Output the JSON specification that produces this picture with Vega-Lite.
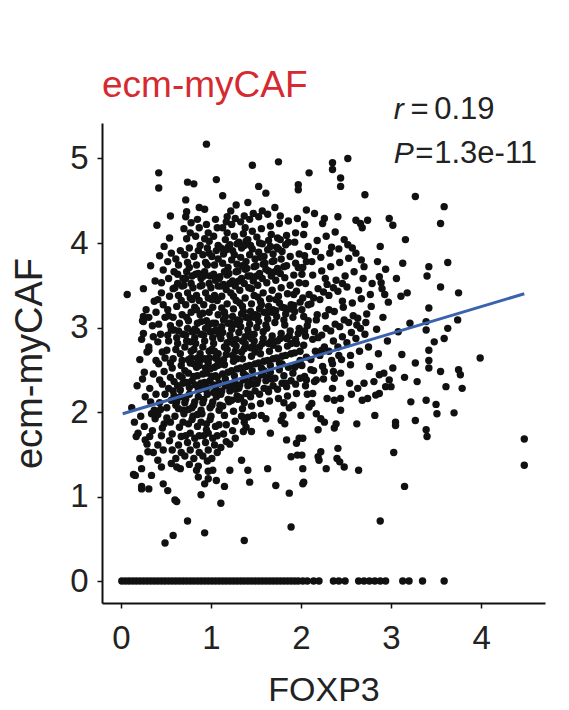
{
"$schema": "https://vega.github.io/schema/vega-lite/v6.json",
"autosize": "none",
"width": 443,
"height": 480,
"padding": {"left": 102, "top": 123, "right": 24, "bottom": 107},
"background": "white",
"config": {"font": "Liberation Sans", "view": {"stroke": null}},
"title": {"text": "ecm-myCAF", "anchor": "start", "frame": "group", "fontSize": 37, "fontWeight": "normal", "color": "#d52a30", "offset": -11},
"datasets": {
"fit": [{"x":0.02,"y":1.98},{"x":4.48,"y":3.40}],
"ital": [{"x":3.03,"y":5.47,"t":"r"},{"x":3.03,"y":4.95,"t":"P"}],
"norm": [{"x":3.215,"y":5.47,"t":"="},{"x":3.48,"y":5.47,"t":"0.19"},{"x":3.27,"y":4.95,"t":"="},{"x":3.48,"y":4.95,"t":"1.3e-11"}],
"pts": [
{"x":0.01,"y":0},{"x":0.05,"y":0},{"x":0.09,"y":0},{"x":0.13,"y":0},{"x":0.17,"y":0},{"x":0.21,"y":0},{"x":0.25,"y":0},{"x":0.29,"y":0},{"x":0.33,"y":0},{"x":0.37,"y":0},{"x":0.41,"y":0},{"x":0.45,"y":0},{"x":0.49,"y":0},{"x":0.53,"y":0},{"x":0.57,"y":0},{"x":0.61,"y":0},{"x":0.65,"y":0},{"x":0.69,"y":0},{"x":0.73,"y":0},{"x":0.77,"y":0},{"x":0.81,"y":0},{"x":0.85,"y":0},{"x":0.89,"y":0},{"x":0.93,"y":0},{"x":0.97,"y":0},{"x":1.01,"y":0},{"x":1.05,"y":0},{"x":1.09,"y":0},{"x":1.13,"y":0},{"x":1.17,"y":0},{"x":1.21,"y":0},{"x":1.25,"y":0},{"x":1.29,"y":0},{"x":1.33,"y":0},{"x":1.37,"y":0},{"x":1.41,"y":0},{"x":1.45,"y":0},{"x":1.49,"y":0},{"x":1.53,"y":0},{"x":1.57,"y":0},{"x":1.61,"y":0},{"x":1.65,"y":0},{"x":1.69,"y":0},{"x":1.73,"y":0},{"x":1.77,"y":0},{"x":1.81,"y":0},{"x":1.85,"y":0},{"x":1.89,"y":0},{"x":1.93,"y":0},{"x":1.97,"y":0},
{"x":2.02,"y":0},{"x":2.07,"y":0},{"x":2.14,"y":0},{"x":2.20,"y":0},{"x":2.36,"y":0},{"x":2.42,"y":0},{"x":2.49,"y":0},{"x":2.64,"y":0},{"x":2.70,"y":0},{"x":2.76,"y":0},{"x":2.82,"y":0},{"x":2.88,"y":0},{"x":2.94,"y":0},{"x":3.13,"y":0},{"x":3.20,"y":0},{"x":3.35,"y":0},{"x":3.59,"y":0},
{"x":0.12,"y":2.05},{"x":0.18,"y":2.31},{"x":0.15,"y":1.88},{"x":0.21,"y":2.62},{"x":0.24,"y":3.08},{"x":0.22,"y":1.95},{"x":0.27,"y":2.18},{"x":0.26,"y":2.47},{"x":0.29,"y":1.62},{"x":0.23,"y":2.86},{"x":0.28,"y":3.21},{"x":0.21,"y":1.45},{"x":0.26,"y":1.83},{"x":0.29,"y":2.71},{"x":0.24,"y":2.39},
{"x":0.07,"y":3.39},{"x":0.14,"y":1.26},{"x":0.16,"y":1.25},{"x":0.23,"y":1.12},{"x":0.23,"y":1.09},{"x":0.23,"y":1.33},{"x":0.19,"y":1.75},{"x":0.17,"y":1.71},{"x":0.27,"y":1.67},{"x":0.25,"y":3.46},{"x":0.25,"y":3.13},{"x":0.25,"y":3.07},{"x":0.25,"y":2.93},
{"x":0.31,"y":2.77},{"x":0.31,"y":2.73},{"x":0.31,"y":1.09},{"x":0.34,"y":1.25},{"x":0.30,"y":1.53},{"x":0.32,"y":1.71},
{"x":0.33,"y":2.12},{"x":0.36,"y":2.45},{"x":0.38,"y":1.92},{"x":0.35,"y":3.02},{"x":0.37,"y":3.31},{"x":0.32,"y":2.28},{"x":0.39,"y":2.61},{"x":0.34,"y":1.98},{"x":0.36,"y":2.89},{"x":0.38,"y":3.55},{"x":0.33,"y":3.73},{"x":0.35,"y":1.78},{"x":0.39,"y":2.21},{"x":0.37,"y":2.02},{"x":0.31,"y":3.12},{"x":0.36,"y":1.52},{"x":0.39,"y":3.18},
{"x":0.42,"y":4.83},{"x":0.42,"y":4.65},{"x":0.40,"y":4.21},{"x":0.45,"y":3.53},{"x":0.45,"y":3.41},{"x":0.47,"y":3.68},{"x":0.41,"y":3.33},{"x":0.47,"y":1.15},{"x":0.45,"y":1.35},{"x":0.41,"y":1.43},{"x":0.47,"y":1.55},{"x":0.41,"y":1.61},{"x":0.49,"y":0.45},
{"x":0.43,"y":2.11},{"x":0.46,"y":2.33},{"x":0.48,"y":1.86},{"x":0.42,"y":2.57},{"x":0.44,"y":2.92},{"x":0.49,"y":3.12},{"x":0.41,"y":1.97},{"x":0.46,"y":2.71},{"x":0.48,"y":2.48},{"x":0.43,"y":3.85},{"x":0.45,"y":1.72},{"x":0.49,"y":2.21},{"x":0.42,"y":3.04},{"x":0.47,"y":3.27},{"x":0.44,"y":2.03},{"x":0.48,"y":3.96},{"x":0.41,"y":2.83},{"x":0.46,"y":1.81},{"x":0.43,"y":2.38},{"x":0.49,"y":2.64},
{"x":0.52,"y":3.78},{"x":0.54,"y":4.06},{"x":0.52,"y":1.07},{"x":0.56,"y":1.39},{"x":0.58,"y":0.54},
{"x":0.51,"y":2.05},{"x":0.53,"y":2.28},{"x":0.55,"y":1.88},{"x":0.57,"y":2.52},{"x":0.59,"y":2.97},{"x":0.52,"y":3.21},{"x":0.54,"y":1.66},{"x":0.56,"y":2.14},{"x":0.58,"y":3.46},{"x":0.51,"y":2.73},{"x":0.53,"y":3.58},{"x":0.55,"y":2.41},{"x":0.57,"y":1.74},{"x":0.59,"y":2.19},{"x":0.52,"y":2.91},{"x":0.54,"y":3.37},{"x":0.56,"y":3.88},{"x":0.58,"y":2.63},{"x":0.51,"y":1.93},{"x":0.55,"y":3.02},{"x":0.57,"y":1.55},{"x":0.59,"y":2.36},{"x":0.53,"y":2.84},{"x":0.58,"y":3.12},{"x":0.55,"y":4.32},
{"x":0.60,"y":0.96},{"x":0.62,"y":0.94},{"x":0.62,"y":1.35},{"x":0.70,"y":4.17},
{"x":0.61,"y":2.08},{"x":0.63,"y":2.31},{"x":0.65,"y":1.82},{"x":0.67,"y":2.55},{"x":0.69,"y":2.92},{"x":0.62,"y":3.25},{"x":0.64,"y":1.61},{"x":0.66,"y":2.18},{"x":0.68,"y":3.49},{"x":0.61,"y":2.74},{"x":0.63,"y":3.63},{"x":0.65,"y":2.43},{"x":0.67,"y":1.71},{"x":0.69,"y":2.02},{"x":0.62,"y":2.88},{"x":0.64,"y":3.38},{"x":0.66,"y":3.91},{"x":0.68,"y":2.61},{"x":0.60,"y":1.95},{"x":0.65,"y":3.05},{"x":0.67,"y":1.52},{"x":0.69,"y":2.34},{"x":0.63,"y":2.81},{"x":0.68,"y":3.15},{"x":0.64,"y":3.74},{"x":0.61,"y":1.45},{"x":0.66,"y":2.26},{"x":0.69,"y":3.58},{"x":0.62,"y":2.12},{"x":0.67,"y":3.32},{"x":0.64,"y":2.96},{"x":0.60,"y":3.47},{"x":0.66,"y":1.33},{"x":0.69,"y":1.88},
{"x":0.74,"y":4.72},{"x":0.81,"y":4.70},{"x":0.72,"y":4.51},{"x":0.73,"y":4.37},{"x":0.72,"y":4.31},{"x":0.74,"y":0.71},
{"x":0.71,"y":2.11},{"x":0.73,"y":2.35},{"x":0.75,"y":1.86},{"x":0.77,"y":2.58},{"x":0.79,"y":2.95},{"x":0.72,"y":3.27},{"x":0.74,"y":1.64},{"x":0.76,"y":2.21},{"x":0.78,"y":3.52},{"x":0.71,"y":2.77},{"x":0.73,"y":3.66},{"x":0.75,"y":2.46},{"x":0.77,"y":1.75},{"x":0.79,"y":2.05},{"x":0.72,"y":2.91},{"x":0.74,"y":3.41},{"x":0.76,"y":3.94},{"x":0.78,"y":2.64},{"x":0.70,"y":1.98},{"x":0.75,"y":3.08},{"x":0.77,"y":1.55},{"x":0.79,"y":2.37},{"x":0.73,"y":2.84},{"x":0.78,"y":3.18},{"x":0.74,"y":3.77},{"x":0.71,"y":1.48},{"x":0.76,"y":2.29},{"x":0.79,"y":3.61},{"x":0.72,"y":2.15},{"x":0.77,"y":3.35},{"x":0.74,"y":2.99},{"x":0.70,"y":3.50},{"x":0.76,"y":1.38},{"x":0.79,"y":1.91},{"x":0.73,"y":4.05},{"x":0.77,"y":4.12},{"x":0.71,"y":3.86},{"x":0.78,"y":2.72},{"x":0.75,"y":2.62},{"x":0.72,"y":1.72},
{"x":0.87,"y":4.42},{"x":0.84,"y":1.31},{"x":0.86,"y":1.23},{"x":0.89,"y":1.02},
{"x":0.81,"y":2.08},{"x":0.83,"y":2.32},{"x":0.85,"y":1.83},{"x":0.87,"y":2.55},{"x":0.89,"y":2.92},{"x":0.82,"y":3.24},{"x":0.84,"y":1.61},{"x":0.86,"y":2.18},{"x":0.88,"y":3.49},{"x":0.81,"y":2.74},{"x":0.83,"y":3.63},{"x":0.85,"y":2.43},{"x":0.87,"y":1.72},{"x":0.89,"y":2.02},{"x":0.82,"y":2.88},{"x":0.84,"y":3.38},{"x":0.86,"y":3.91},{"x":0.88,"y":2.61},{"x":0.80,"y":1.95},{"x":0.85,"y":3.05},{"x":0.87,"y":1.52},{"x":0.89,"y":2.34},{"x":0.83,"y":2.81},{"x":0.88,"y":3.15},{"x":0.84,"y":3.74},{"x":0.81,"y":1.45},{"x":0.86,"y":2.26},{"x":0.89,"y":3.58},{"x":0.82,"y":2.12},{"x":0.87,"y":3.32},{"x":0.84,"y":2.96},{"x":0.80,"y":3.47},{"x":0.86,"y":1.36},{"x":0.89,"y":1.88},{"x":0.83,"y":4.08},{"x":0.87,"y":4.18},{"x":0.81,"y":3.84},{"x":0.88,"y":2.69},{"x":0.85,"y":2.64},{"x":0.82,"y":1.69},{"x":0.85,"y":4.28},{"x":0.88,"y":3.97},{"x":0.81,"y":2.42},{"x":0.84,"y":2.53},
{"x":0.95,"y":5.17},{"x":0.93,"y":4.40},{"x":0.93,"y":0.57},{"x":0.97,"y":1.21},
{"x":0.91,"y":2.11},{"x":0.93,"y":2.35},{"x":0.95,"y":1.86},{"x":0.97,"y":2.58},{"x":0.99,"y":2.95},{"x":0.92,"y":3.27},{"x":0.94,"y":1.64},{"x":0.96,"y":2.21},{"x":0.98,"y":3.52},{"x":0.91,"y":2.77},{"x":0.93,"y":3.66},{"x":0.95,"y":2.46},{"x":0.97,"y":1.75},{"x":0.99,"y":2.05},{"x":0.92,"y":2.91},{"x":0.94,"y":3.41},{"x":0.96,"y":3.94},{"x":0.98,"y":2.64},{"x":0.90,"y":1.98},{"x":0.95,"y":3.08},{"x":0.97,"y":1.55},{"x":0.99,"y":2.37},{"x":0.93,"y":2.84},{"x":0.98,"y":3.18},{"x":0.94,"y":3.77},{"x":0.91,"y":1.48},{"x":0.96,"y":2.29},{"x":0.99,"y":3.61},{"x":0.92,"y":2.15},{"x":0.97,"y":3.35},{"x":0.94,"y":2.99},{"x":0.90,"y":3.50},{"x":0.96,"y":1.42},{"x":0.99,"y":1.91},{"x":0.93,"y":4.05},{"x":0.97,"y":4.12},{"x":0.91,"y":3.86},{"x":0.98,"y":2.72},{"x":0.95,"y":2.62},{"x":0.92,"y":1.72},{"x":0.95,"y":4.22},{"x":0.98,"y":3.88},{"x":0.91,"y":2.45},{"x":0.94,"y":2.52},{"x":0.97,"y":1.30},{"x":0.93,"y":1.15},
{"x":1.06,"y":4.75},{"x":1.06,"y":1.19},{"x":1.02,"y":1.31},
{"x":1.01,"y":2.08},{"x":1.03,"y":2.32},{"x":1.05,"y":1.83},{"x":1.07,"y":2.55},{"x":1.09,"y":2.92},{"x":1.02,"y":3.24},{"x":1.04,"y":1.61},{"x":1.06,"y":2.18},{"x":1.08,"y":3.49},{"x":1.01,"y":2.74},{"x":1.03,"y":3.63},{"x":1.05,"y":2.43},{"x":1.07,"y":1.72},{"x":1.09,"y":2.02},{"x":1.02,"y":2.88},{"x":1.04,"y":3.38},{"x":1.06,"y":3.91},{"x":1.08,"y":2.61},{"x":1.00,"y":1.95},{"x":1.05,"y":3.05},{"x":1.07,"y":1.52},{"x":1.09,"y":2.34},{"x":1.03,"y":2.81},{"x":1.08,"y":3.15},{"x":1.04,"y":3.74},{"x":1.01,"y":1.45},{"x":1.06,"y":2.26},{"x":1.09,"y":3.58},{"x":1.02,"y":2.12},{"x":1.07,"y":3.32},{"x":1.04,"y":2.96},{"x":1.00,"y":3.47},{"x":1.03,"y":4.08},{"x":1.07,"y":4.18},{"x":1.01,"y":3.84},{"x":1.08,"y":2.69},{"x":1.05,"y":2.64},{"x":1.02,"y":1.69},{"x":1.05,"y":4.28},{"x":1.08,"y":3.97},{"x":1.01,"y":2.42},{"x":1.04,"y":2.53},{"x":1.09,"y":1.85},
{"x":1.13,"y":4.56},{"x":1.18,"y":4.31},{"x":1.11,"y":0.92},{"x":1.15,"y":1.12},
{"x":1.11,"y":2.21},{"x":1.13,"y":2.45},{"x":1.15,"y":1.96},{"x":1.17,"y":2.68},{"x":1.19,"y":3.05},{"x":1.12,"y":3.37},{"x":1.14,"y":1.74},{"x":1.16,"y":2.31},{"x":1.18,"y":3.62},{"x":1.11,"y":2.87},{"x":1.13,"y":3.76},{"x":1.15,"y":2.56},{"x":1.17,"y":1.85},{"x":1.19,"y":2.15},{"x":1.12,"y":3.01},{"x":1.14,"y":3.51},{"x":1.16,"y":4.04},{"x":1.18,"y":2.74},{"x":1.10,"y":2.08},{"x":1.15,"y":3.18},{"x":1.17,"y":1.65},{"x":1.19,"y":2.47},{"x":1.13,"y":2.94},{"x":1.18,"y":3.28},{"x":1.14,"y":3.87},{"x":1.11,"y":1.58},{"x":1.16,"y":2.39},{"x":1.19,"y":3.71},{"x":1.12,"y":2.25},{"x":1.17,"y":3.45},{"x":1.14,"y":3.09},{"x":1.10,"y":3.60},{"x":1.13,"y":4.18},{"x":1.17,"y":4.25},{"x":1.11,"y":3.94},{"x":1.18,"y":2.82},{"x":1.15,"y":2.77},{"x":1.19,"y":3.95},
{"x":1.21,"y":1.31},{"x":1.28,"y":4.45},
{"x":1.21,"y":2.25},{"x":1.23,"y":2.49},{"x":1.25,"y":2.01},{"x":1.27,"y":2.72},{"x":1.29,"y":3.09},{"x":1.22,"y":3.41},{"x":1.24,"y":1.78},{"x":1.26,"y":2.35},{"x":1.28,"y":3.66},{"x":1.21,"y":2.91},{"x":1.23,"y":3.80},{"x":1.25,"y":2.60},{"x":1.27,"y":1.89},{"x":1.29,"y":2.19},{"x":1.22,"y":3.05},{"x":1.24,"y":3.55},{"x":1.26,"y":4.08},{"x":1.28,"y":2.78},{"x":1.20,"y":2.12},{"x":1.25,"y":3.22},{"x":1.27,"y":1.69},{"x":1.29,"y":2.51},{"x":1.23,"y":2.98},{"x":1.28,"y":3.32},{"x":1.24,"y":3.91},{"x":1.21,"y":1.62},{"x":1.26,"y":2.43},{"x":1.29,"y":3.75},{"x":1.22,"y":2.29},{"x":1.27,"y":3.49},{"x":1.24,"y":3.13},{"x":1.20,"y":3.64},{"x":1.23,"y":4.22},{"x":1.27,"y":4.29},{"x":1.21,"y":3.98},{"x":1.28,"y":2.86},{"x":1.25,"y":2.81},{"x":1.29,"y":3.99},{"x":1.22,"y":4.38},
{"x":1.37,"y":0.48},{"x":1.34,"y":1.43},{"x":1.36,"y":1.77},{"x":1.39,"y":1.82},{"x":1.37,"y":1.88},
{"x":1.31,"y":2.28},{"x":1.33,"y":2.52},{"x":1.35,"y":2.04},{"x":1.37,"y":2.75},{"x":1.39,"y":3.12},{"x":1.32,"y":3.44},{"x":1.34,"y":1.95},{"x":1.36,"y":2.38},{"x":1.38,"y":3.69},{"x":1.31,"y":2.94},{"x":1.33,"y":3.83},{"x":1.35,"y":2.63},{"x":1.37,"y":2.11},{"x":1.39,"y":2.22},{"x":1.32,"y":3.08},{"x":1.34,"y":3.58},{"x":1.36,"y":4.11},{"x":1.38,"y":2.81},{"x":1.30,"y":2.15},{"x":1.35,"y":3.25},{"x":1.39,"y":2.54},{"x":1.33,"y":3.01},{"x":1.38,"y":3.35},{"x":1.34,"y":3.94},{"x":1.36,"y":2.46},{"x":1.39,"y":3.78},{"x":1.32,"y":2.32},{"x":1.37,"y":3.52},{"x":1.34,"y":3.16},{"x":1.30,"y":3.67},{"x":1.33,"y":4.25},{"x":1.37,"y":4.32},{"x":1.31,"y":4.01},{"x":1.38,"y":2.89},{"x":1.35,"y":2.84},{"x":1.39,"y":4.02},
{"x":1.46,"y":4.92},{"x":1.41,"y":4.48},{"x":1.41,"y":1.31},{"x":1.43,"y":1.17},{"x":1.45,"y":1.77},{"x":1.41,"y":1.94},{"x":1.47,"y":1.96},
{"x":1.41,"y":2.31},{"x":1.43,"y":2.55},{"x":1.45,"y":2.07},{"x":1.47,"y":2.78},{"x":1.49,"y":3.15},{"x":1.42,"y":3.47},{"x":1.44,"y":2.18},{"x":1.46,"y":2.41},{"x":1.48,"y":3.72},{"x":1.41,"y":2.97},{"x":1.43,"y":3.86},{"x":1.45,"y":2.66},{"x":1.49,"y":2.25},{"x":1.42,"y":3.11},{"x":1.44,"y":3.61},{"x":1.46,"y":4.14},{"x":1.48,"y":2.84},{"x":1.45,"y":3.28},{"x":1.49,"y":2.57},{"x":1.43,"y":3.04},{"x":1.48,"y":3.38},{"x":1.44,"y":3.97},{"x":1.46,"y":2.49},{"x":1.49,"y":3.81},{"x":1.42,"y":2.35},{"x":1.47,"y":3.55},{"x":1.44,"y":3.19},{"x":1.40,"y":3.70},{"x":1.43,"y":4.28},{"x":1.47,"y":4.35},{"x":1.41,"y":4.04},{"x":1.48,"y":2.92},{"x":1.45,"y":2.87},
{"x":1.53,"y":4.67},{"x":1.56,"y":1.96},
{"x":1.51,"y":2.34},{"x":1.53,"y":2.58},{"x":1.55,"y":2.10},{"x":1.57,"y":2.81},{"x":1.59,"y":3.18},{"x":1.52,"y":3.50},{"x":1.54,"y":2.21},{"x":1.56,"y":2.44},{"x":1.58,"y":3.75},{"x":1.51,"y":3.00},{"x":1.53,"y":3.89},{"x":1.55,"y":2.69},{"x":1.59,"y":2.28},{"x":1.52,"y":3.14},{"x":1.54,"y":3.64},{"x":1.56,"y":4.17},{"x":1.58,"y":2.87},{"x":1.55,"y":3.31},{"x":1.59,"y":2.60},{"x":1.53,"y":3.07},{"x":1.58,"y":3.41},{"x":1.54,"y":4.00},{"x":1.56,"y":2.52},{"x":1.59,"y":3.84},{"x":1.52,"y":2.38},{"x":1.57,"y":3.58},{"x":1.54,"y":3.22},{"x":1.50,"y":3.73},{"x":1.53,"y":4.31},{"x":1.57,"y":4.38},{"x":1.51,"y":4.07},{"x":1.58,"y":2.95},
{"x":1.61,"y":4.59},{"x":1.63,"y":1.33},
{"x":1.61,"y":2.37},{"x":1.63,"y":2.61},{"x":1.65,"y":2.13},{"x":1.67,"y":2.84},{"x":1.69,"y":3.21},{"x":1.62,"y":3.53},{"x":1.64,"y":2.24},{"x":1.66,"y":2.47},{"x":1.68,"y":3.78},{"x":1.61,"y":3.03},{"x":1.63,"y":3.92},{"x":1.65,"y":2.72},{"x":1.69,"y":2.31},{"x":1.62,"y":3.17},{"x":1.64,"y":3.67},{"x":1.66,"y":4.20},{"x":1.68,"y":2.90},{"x":1.65,"y":3.34},{"x":1.69,"y":2.63},{"x":1.63,"y":3.10},{"x":1.68,"y":3.44},{"x":1.64,"y":4.03},{"x":1.66,"y":2.55},{"x":1.69,"y":3.87},{"x":1.62,"y":2.41},{"x":1.67,"y":3.61},{"x":1.64,"y":3.25},{"x":1.60,"y":3.76},{"x":1.63,"y":4.34},{"x":1.67,"y":4.10},{"x":1.61,"y":1.92},{"x":1.66,"y":1.75},
{"x":1.75,"y":4.96},{"x":1.71,"y":4.42},{"x":1.72,"y":1.13},{"x":1.78,"y":1.90},{"x":1.80,"y":1.96},
{"x":1.71,"y":2.40},{"x":1.73,"y":2.64},{"x":1.75,"y":2.16},{"x":1.77,"y":2.87},{"x":1.79,"y":3.24},{"x":1.72,"y":3.56},{"x":1.74,"y":2.27},{"x":1.76,"y":2.50},{"x":1.78,"y":3.81},{"x":1.71,"y":3.06},{"x":1.73,"y":3.95},{"x":1.75,"y":2.75},{"x":1.79,"y":2.34},{"x":1.72,"y":3.20},{"x":1.74,"y":3.70},{"x":1.76,"y":4.23},{"x":1.78,"y":2.93},{"x":1.75,"y":3.37},{"x":1.79,"y":2.66},{"x":1.73,"y":3.13},{"x":1.78,"y":3.47},{"x":1.74,"y":4.06},{"x":1.76,"y":2.58},{"x":1.79,"y":3.90},{"x":1.77,"y":3.64},{"x":1.70,"y":3.79},{"x":1.77,"y":4.32},
{"x":1.82,"y":1.86},{"x":1.84,"y":1.67},{"x":1.87,"y":1.04},{"x":1.89,"y":1.47},{"x":1.89,"y":0.64},
{"x":1.81,"y":2.43},{"x":1.83,"y":2.67},{"x":1.85,"y":2.19},{"x":1.87,"y":2.90},{"x":1.89,"y":3.27},{"x":1.82,"y":3.59},{"x":1.84,"y":2.30},{"x":1.86,"y":2.53},{"x":1.88,"y":3.84},{"x":1.81,"y":3.09},{"x":1.83,"y":3.98},{"x":1.85,"y":2.78},{"x":1.89,"y":2.37},{"x":1.82,"y":3.23},{"x":1.84,"y":3.73},{"x":1.86,"y":4.26},{"x":1.88,"y":2.96},{"x":1.85,"y":3.40},{"x":1.89,"y":2.69},{"x":1.83,"y":3.16},{"x":1.88,"y":3.50},{"x":1.84,"y":4.09},{"x":1.87,"y":2.05},{"x":1.81,"y":2.11},
{"x":1.97,"y":4.69},{"x":1.97,"y":4.63},{"x":1.96,"y":1.49},{"x":1.95,"y":1.63},{"x":1.98,"y":1.69},{"x":2.00,"y":1.96},
{"x":1.91,"y":2.46},{"x":1.93,"y":2.70},{"x":1.95,"y":2.22},{"x":1.97,"y":2.93},{"x":1.99,"y":3.30},{"x":1.92,"y":3.62},{"x":1.94,"y":2.33},{"x":1.96,"y":2.56},{"x":1.98,"y":3.87},{"x":1.91,"y":3.12},{"x":1.93,"y":4.01},{"x":1.95,"y":2.81},{"x":1.99,"y":2.40},{"x":1.92,"y":3.26},{"x":1.94,"y":3.76},{"x":1.96,"y":4.29},{"x":1.98,"y":2.99},{"x":1.95,"y":3.43},{"x":1.99,"y":2.72},{"x":1.93,"y":3.19},{"x":1.98,"y":3.53},{"x":1.94,"y":4.12},{"x":1.91,"y":2.08},
{"x":2.09,"y":4.83},{"x":2.06,"y":4.39},{"x":2.02,"y":1.33},{"x":2.02,"y":1.15},{"x":2.01,"y":1.49},{"x":2.02,"y":1.69},{"x":2.09,"y":2.06},{"x":2.06,"y":2.38},{"x":2.11,"y":2.50},{"x":2.03,"y":1.17},
{"x":2.01,"y":2.55},{"x":2.03,"y":2.79},{"x":2.05,"y":2.31},{"x":2.07,"y":3.02},{"x":2.09,"y":3.39},{"x":2.02,"y":3.71},{"x":2.04,"y":2.42},{"x":2.06,"y":2.65},{"x":2.08,"y":3.96},{"x":2.01,"y":3.21},{"x":2.03,"y":4.10},{"x":2.05,"y":2.90},{"x":2.02,"y":3.35},{"x":2.04,"y":3.85},{"x":2.08,"y":3.08},{"x":2.05,"y":3.52},{"x":2.07,"y":2.21},{"x":2.04,"y":4.22},
{"x":2.15,"y":4.35},{"x":2.13,"y":2.22},{"x":2.19,"y":1.79},{"x":2.17,"y":1.98},{"x":2.15,"y":2.36},{"x":2.19,"y":1.47},{"x":2.20,"y":1.43},{"x":2.22,"y":1.53},{"x":2.22,"y":1.92},
{"x":2.11,"y":2.62},{"x":2.13,"y":2.86},{"x":2.15,"y":2.95},{"x":2.17,"y":3.09},{"x":2.19,"y":3.46},{"x":2.12,"y":3.78},{"x":2.14,"y":2.49},{"x":2.16,"y":2.72},{"x":2.18,"y":4.03},{"x":2.11,"y":3.28},{"x":2.13,"y":3.62},{"x":2.18,"y":3.15},{"x":2.16,"y":3.90},{"x":2.12,"y":2.10},
{"x":2.26,"y":4.29},{"x":2.24,"y":4.23},{"x":2.26,"y":1.88},{"x":2.28,"y":1.33},{"x":2.26,"y":2.48},
{"x":2.21,"y":2.67},{"x":2.23,"y":2.91},{"x":2.25,"y":2.39},{"x":2.27,"y":3.14},{"x":2.29,"y":3.51},{"x":2.22,"y":3.83},{"x":2.24,"y":2.54},{"x":2.26,"y":2.77},{"x":2.28,"y":4.08},{"x":2.21,"y":3.33},{"x":2.23,"y":3.67},{"x":2.28,"y":2.99},{"x":2.25,"y":3.42},{"x":2.29,"y":2.16},
{"x":2.35,"y":4.95},{"x":2.35,"y":4.87},{"x":2.37,"y":1.81},{"x":2.39,"y":1.86},{"x":2.37,"y":2.14},{"x":2.35,"y":2.28},{"x":2.37,"y":2.40},{"x":2.41,"y":1.57},{"x":2.40,"y":1.45},{"x":2.43,"y":1.41},
{"x":2.31,"y":2.72},{"x":2.33,"y":2.96},{"x":2.35,"y":2.57},{"x":2.37,"y":3.19},{"x":2.39,"y":3.56},{"x":2.32,"y":3.88},{"x":2.34,"y":2.61},{"x":2.36,"y":2.84},{"x":2.38,"y":4.13},{"x":2.31,"y":3.38},{"x":2.33,"y":3.72},{"x":2.38,"y":3.04},{"x":2.36,"y":3.47},
{"x":2.44,"y":4.77},{"x":2.44,"y":4.67},{"x":2.41,"y":4.31},{"x":2.44,"y":2.02},{"x":2.44,"y":2.16},{"x":2.44,"y":2.46},{"x":2.48,"y":1.35},
{"x":2.41,"y":2.77},{"x":2.43,"y":3.01},{"x":2.45,"y":2.62},{"x":2.47,"y":3.24},{"x":2.49,"y":3.61},{"x":2.42,"y":3.93},{"x":2.46,"y":2.89},{"x":2.48,"y":4.04},{"x":2.41,"y":3.43},{"x":2.43,"y":3.77},{"x":2.48,"y":3.09},{"x":2.46,"y":3.52},
{"x":2.52,"y":5.00},{"x":2.55,"y":2.56},{"x":2.54,"y":2.34},{"x":2.57,"y":3.94},{"x":2.61,"y":3.88},
{"x":2.51,"y":2.82},{"x":2.53,"y":3.06},{"x":2.55,"y":2.67},{"x":2.57,"y":3.29},{"x":2.59,"y":3.66},{"x":2.52,"y":3.98},{"x":2.56,"y":2.94},{"x":2.51,"y":3.48},{"x":2.53,"y":3.82},{"x":2.58,"y":3.14},{"x":2.56,"y":2.21},
{"x":2.61,"y":4.27},{"x":2.66,"y":4.23},{"x":2.68,"y":4.18},{"x":2.67,"y":3.80},{"x":2.70,"y":3.72},{"x":2.63,"y":2.28},{"x":2.68,"y":2.14},{"x":2.70,"y":2.34},{"x":2.62,"y":1.86},{"x":2.64,"y":1.31},
{"x":2.61,"y":2.87},{"x":2.63,"y":3.11},{"x":2.65,"y":2.72},{"x":2.67,"y":3.34},{"x":2.69,"y":3.58},{"x":2.62,"y":3.03},{"x":2.66,"y":2.99},{"x":2.64,"y":3.44},
{"x":2.71,"y":4.57},{"x":2.74,"y":4.27},{"x":2.74,"y":2.16},{"x":2.81,"y":2.36},
{"x":2.71,"y":2.92},{"x":2.73,"y":3.16},{"x":2.75,"y":2.77},{"x":2.77,"y":3.39},{"x":2.79,"y":3.52},{"x":2.72,"y":3.06},{"x":2.76,"y":2.54},{"x":2.78,"y":3.25},
{"x":2.88,"y":3.96},{"x":2.94,"y":3.69},{"x":2.87,"y":3.60},{"x":2.89,"y":3.53},{"x":2.90,"y":3.46},{"x":2.93,"y":3.39},{"x":2.97,"y":3.30},{"x":2.87,"y":2.44},{"x":2.92,"y":2.46},{"x":2.98,"y":2.38},{"x":3.00,"y":2.30},{"x":2.94,"y":2.30},{"x":2.87,"y":2.22},{"x":2.83,"y":2.20},{"x":2.82,"y":1.96},{"x":2.98,"y":4.29},{"x":3.02,"y":4.21},{"x":2.88,"y":0.71},{"x":3.02,"y":2.52},
{"x":2.84,"y":2.98},{"x":2.86,"y":2.69},{"x":2.91,"y":3.12},{"x":2.96,"y":2.84},{"x":2.85,"y":3.78},
{"x":3.11,"y":3.37},{"x":3.18,"y":3.41},{"x":3.13,"y":3.76},{"x":3.16,"y":4.04},{"x":3.27,"y":4.55},{"x":3.59,"y":4.43},{"x":3.55,"y":4.23},{"x":3.42,"y":3.72},{"x":3.63,"y":3.77},{"x":3.40,"y":3.61},{"x":3.55,"y":3.48},{"x":3.75,"y":3.41},{"x":3.42,"y":3.23},{"x":3.74,"y":3.09},{"x":3.39,"y":3.07},{"x":3.39,"y":2.97},{"x":3.63,"y":2.99},{"x":3.59,"y":2.87},{"x":3.48,"y":2.83},{"x":3.42,"y":2.73},{"x":3.42,"y":2.61},{"x":3.99,"y":2.64},{"x":3.27,"y":2.58},{"x":3.42,"y":2.52},{"x":3.55,"y":2.48},{"x":3.75,"y":2.50},{"x":3.77,"y":2.44},{"x":3.79,"y":2.28},{"x":3.61,"y":2.30},{"x":3.29,"y":2.36},{"x":3.22,"y":2.12},{"x":3.39,"y":2.14},{"x":3.50,"y":2.09},{"x":3.51,"y":1.98},{"x":3.70,"y":1.99},{"x":3.27,"y":1.90},{"x":3.39,"y":1.79},{"x":3.40,"y":1.71},{"x":3.05,"y":1.88},{"x":3.05,"y":1.84},{"x":3.03,"y":1.52},{"x":3.15,"y":1.12},{"x":4.48,"y":1.68},{"x":4.48,"y":1.37},
{"x":3.08,"y":2.95},{"x":3.12,"y":2.68},{"x":3.21,"y":3.05},{"x":3.06,"y":3.58},{"x":3.15,"y":2.41},
{"x":0.56,"y":2.97},{"x":0.63,"y":3.52},{"x":0.58,"y":2.25},{"x":0.66,"y":2.69},{"x":0.53,"y":3.14},{"x":0.61,"y":3.81},{"x":0.68,"y":2.41},{"x":0.55,"y":2.58},{"x":0.64,"y":2.04},{"x":0.59,"y":3.66},
{"x":0.73,"y":3.12},{"x":0.81,"y":2.57},{"x":0.76,"y":3.71},{"x":0.84,"y":3.21},{"x":0.71,"y":2.49},{"x":0.88,"y":2.27},{"x":0.79,"y":3.33},{"x":0.75,"y":2.03},{"x":0.86,"y":3.64},{"x":0.82,"y":2.98},{"x":0.78,"y":4.24},{"x":0.85,"y":1.97},{"x":0.72,"y":3.58},{"x":0.89,"y":3.07},{"x":0.77,"y":2.83},
{"x":0.92,"y":3.61},{"x":1.04,"y":2.72},{"x":0.97,"y":3.02},{"x":1.08,"y":3.81},{"x":0.94,"y":2.27},{"x":1.01,"y":3.33},{"x":0.99,"y":2.51},{"x":1.06,"y":2.97},{"x":0.91,"y":3.17},{"x":1.03,"y":2.23},{"x":0.96,"y":3.74},{"x":1.09,"y":2.56},{"x":0.93,"y":2.63},{"x":1.05,"y":3.56},{"x":0.98,"y":4.02},{"x":1.02,"y":3.05},{"x":0.95,"y":1.79},{"x":1.07,"y":2.41},
{"x":1.12,"y":3.23},{"x":1.24,"y":2.67},{"x":1.17,"y":3.92},{"x":1.28,"y":3.04},{"x":1.14,"y":2.62},{"x":1.21,"y":3.52},{"x":1.19,"y":2.33},{"x":1.26,"y":3.86},{"x":1.11,"y":3.49},{"x":1.23,"y":2.14},{"x":1.16,"y":3.13},{"x":1.29,"y":2.63},{"x":1.13,"y":2.07},{"x":1.25,"y":3.37},{"x":1.18,"y":4.12},{"x":1.22,"y":2.86},{"x":1.15,"y":3.66},{"x":1.27,"y":2.27},
{"x":1.32,"y":3.29},{"x":1.44,"y":2.76},{"x":1.37,"y":3.97},{"x":1.48,"y":3.12},{"x":1.34,"y":2.71},{"x":1.41,"y":3.61},{"x":1.39,"y":2.43},{"x":1.46,"y":3.93},{"x":1.31,"y":3.55},{"x":1.43,"y":2.21},{"x":1.36,"y":3.19},{"x":1.49,"y":2.71},{"x":1.33,"y":2.17},{"x":1.45,"y":3.46},{"x":1.38,"y":4.18},{"x":1.42,"y":2.93},{"x":1.35,"y":3.73},{"x":1.47,"y":2.33},
{"x":1.52,"y":3.36},{"x":1.64,"y":2.81},{"x":1.57,"y":3.99},{"x":1.68,"y":3.18},{"x":1.54,"y":2.77},{"x":1.61,"y":3.69},{"x":1.59,"y":2.49},{"x":1.66,"y":3.96},{"x":1.51,"y":3.61},{"x":1.63,"y":2.27},{"x":1.56,"y":3.27},{"x":1.69,"y":2.79},{"x":1.55,"y":3.83},{"x":1.62,"y":2.99},{"x":1.67,"y":2.39},
{"x":1.72,"y":3.33},{"x":1.84,"y":2.87},{"x":1.77,"y":4.04},{"x":1.88,"y":3.22},{"x":1.74,"y":2.84},{"x":1.81,"y":3.72},{"x":1.79,"y":2.57},{"x":1.86,"y":4.01},{"x":1.71,"y":3.66},{"x":1.83,"y":2.34},{"x":1.76,"y":3.29},{"x":1.89,"y":2.81},{"x":1.75,"y":3.93},{"x":1.82,"y":3.03},
{"x":1.92,"y":3.39},{"x":2.04,"y":2.96},{"x":1.97,"y":3.71},{"x":2.08,"y":3.27},{"x":1.94,"y":2.86},{"x":2.01,"y":3.63},{"x":1.99,"y":2.61},{"x":2.06,"y":3.78},{"x":1.93,"y":2.53},{"x":2.03,"y":3.13},
{"x":2.14,"y":3.35},{"x":2.23,"y":2.73},{"x":2.31,"y":3.21},{"x":2.42,"y":2.67},{"x":2.19,"y":2.88},{"x":2.27,"y":3.58},{"x":2.36,"y":2.48},{"x":2.46,"y":3.31},{"x":2.17,"y":2.38},{"x":2.34,"y":3.95}
]
},
"encoding": {
"x": {"field": "x", "type": "quantitative",
  "scale": {"domain": [-0.21, 4.71], "nice": false, "zero": false},
  "axis": {"values": [0,1,2,3,4], "grid": false, "title": "FOXP3", "domainColor": "#111", "domainWidth": 2, "tickColor": "#111", "tickWidth": 1.5, "tickSize": 5, "labelFontSize": 33, "labelColor": "#222", "labelPadding": 14, "titleFontSize": 34, "titleFontWeight": "normal", "titleColor": "#222", "titlePadding": 18}},
"y": {"field": "y", "type": "quantitative",
  "scale": {"domain": [-0.26, 5.42], "nice": false, "zero": false},
  "axis": {"values": [0,1,2,3,4,5], "grid": false, "title": "ecm-myCAF", "domainColor": "#111", "domainWidth": 2, "tickColor": "#111", "tickWidth": 1.5, "tickSize": 5, "labelFontSize": 33, "labelColor": "#222", "labelPadding": 9, "titleFontSize": 38, "titleFontWeight": "normal", "titleColor": "#222", "titlePadding": 20}}
},
"layer": [
{"data": {"name": "pts"}, "mark": {"type": "circle", "size": 55, "color": "#111", "opacity": 1}},
{"data": {"name": "fit"}, "mark": {"type": "line", "color": "#3a62ad", "strokeWidth": 3}},
{"data": {"name": "ital"}, "mark": {"type": "text", "fontStyle": "italic", "fontSize": 30, "align": "left", "baseline": "alphabetic", "color": "#222"}, "encoding": {"text": {"field": "t"}}},
{"data": {"name": "norm"}, "mark": {"type": "text", "fontSize": 31, "align": "left", "baseline": "alphabetic", "color": "#222"}, "encoding": {"text": {"field": "t"}}}
]
}
